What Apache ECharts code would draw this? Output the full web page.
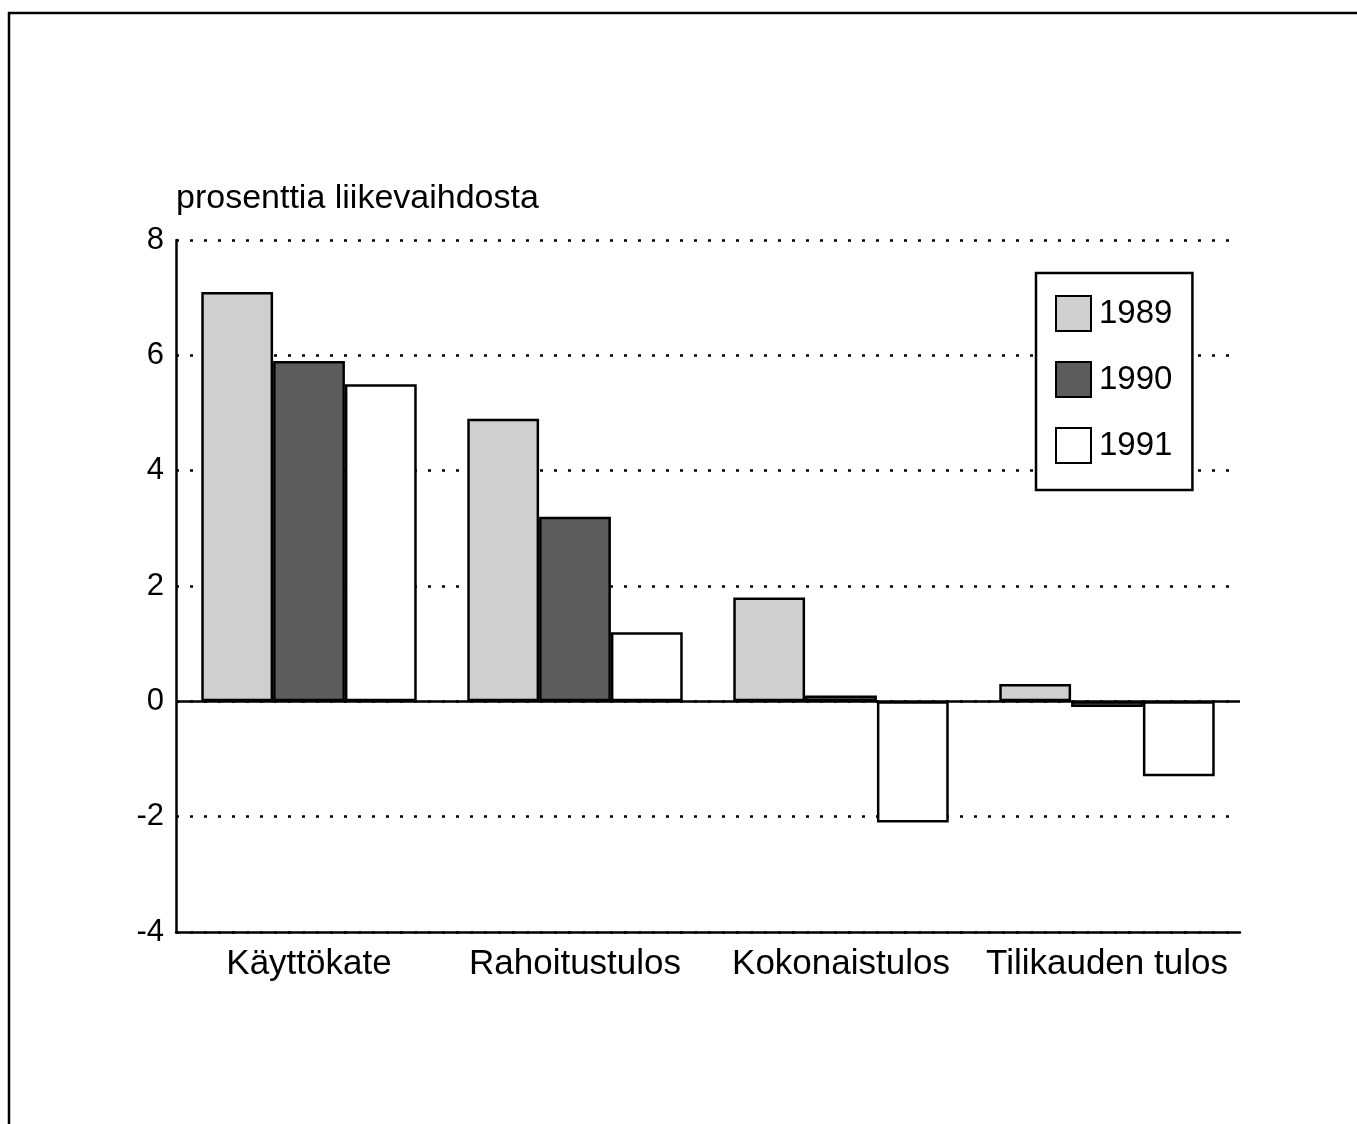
<!DOCTYPE html>
<html>
<head>
<meta charset="utf-8">
<script src="https://cdn.jsdelivr.net/npm/echarts@6/dist/echarts.min.js"></script>
<style>
html,body{margin:0;padding:0;background:#fff;}
#chart{width:1357px;height:1124px;}
</style>
</head>
<body>
<div id="chart"></div>
<script>
const categories = ['Käyttökate', 'Rahoitustulos', 'Kokonaistulos', 'Tilikauden tulos'];
const seriesNames = ['1989', '1990', '1991'];
const values1989 = [7.1, 4.9, 1.8, 0.3];
const values1990 = [5.9, 3.2, 0.1, -0.1];
const values1991 = [5.5, 1.2, -2.1, -1.3];
const yTicks = { min: -4, max: 8, interval: 2 };
const axisTitle = 'prosenttia liikevaihdosta';

const FONT = '"Liberation Sans", Arial, Helvetica, sans-serif';
const fills = ['#cfcfcf', '#5c5c5c', '#ffffff'];
const seriesValues = [values1989, values1990, values1991];

const chart = echarts.init(document.getElementById('chart'), null, { renderer: 'canvas' });

const series = seriesNames.map((name, i) => {
  const s = {
    name: name,
    type: 'bar',
    data: seriesValues[i],
    barGap: '0%',
    barCategoryGap: '19%',
    itemStyle: { color: fills[i], borderColor: '#000', borderWidth: 2.5 },
    emphasis: { disabled: true }
  };
  if (i === 2) {
    s.markLine = {
      silent: true,
      symbol: 'none',
      label: { show: false },
      lineStyle: { color: '#000', width: 2.5, type: 'solid' },
      data: [{ yAxis: 0 }]
    };
  }
  return s;
});

chart.setOption({
  animation: false,
  backgroundColor: '#fff',
  textStyle: { fontFamily: FONT, color: '#000' },
  grid: { left: 176, right: 117, top: 240, bottom: 192, containLabel: false },
  legend: {
    data: seriesNames,
    orient: 'vertical',
    left: 1036,
    top: 273,
    padding: [22, 20, 26, 19],
    itemWidth: 35,
    itemHeight: 35,
    itemGap: 29,
    icon: 'rect',
    backgroundColor: '#fff',
    borderColor: '#000',
    borderWidth: 2.5,
    borderRadius: 0,
    selectedMode: false,
    textStyle: { fontFamily: FONT, fontSize: 33, color: '#000', padding: [6, 0, 0, 3] }
  },
  xAxis: {
    type: 'category',
    data: categories,
    axisLine: { onZero: false, lineStyle: { color: '#000', width: 2.5 } },
    axisTick: { show: false },
    axisLabel: { fontFamily: FONT, fontSize: 35, color: '#000', margin: 15, interval: 0 },
    splitLine: { show: false }
  },
  yAxis: {
    type: 'value',
    min: yTicks.min,
    max: yTicks.max,
    interval: yTicks.interval,
    name: axisTitle,
    nameLocation: 'end',
    nameGap: 24,
    nameTextStyle: { fontFamily: FONT, fontSize: 34, color: '#000', align: 'left', verticalAlign: 'bottom' },
    axisLine: { show: true, lineStyle: { color: '#000', width: 2.5 } },
    axisTick: { show: false },
    axisLabel: { fontFamily: FONT, fontSize: 31, color: '#000', margin: 12, padding: [10, 0, 0, 0] },
    splitLine: { show: true, lineStyle: { color: '#000', width: 2.5, type: [3, 11] } }
  },
  graphic: [{
    type: 'polyline',
    silent: true,
    shape: { points: [[9, 1124], [9, 13], [1357, 13]] },
    style: { stroke: '#000', lineWidth: 2.5, fill: null }
  }],
  series: series
});
</script>
</body>
</html>
